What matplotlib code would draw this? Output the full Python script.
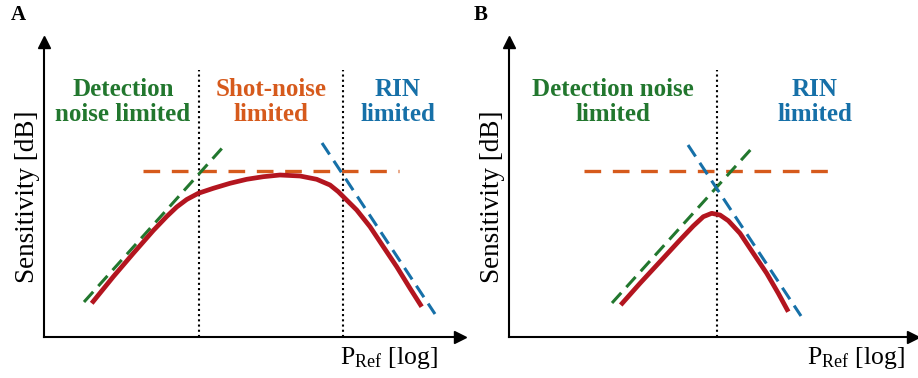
import numpy as np
import matplotlib.pyplot as plt

plt.rcParams['font.family'] = ['Liberation Serif', 'DejaVu Serif']

green = '#22772e'
orange = '#d65a1c'
blue = '#1670a8'
red = '#b3151f'

# panel A (arbitrary units, origin at the axes corner)
a_red_x = [47.7, 69.3, 89.3, 109.3, 122.7, 132.7, 142.7, 154.3, 169.3, 186, 202.7, 219.3,
           236, 256, 272.7, 286, 294.3, 299.3, 312.7, 326, 339.3, 352.7, 366, 377.7]
a_red_y = [33.7, 60.3, 83.7, 106.5, 120.5, 130, 137.5, 143.7, 148.7, 153.7, 157.7, 160.3,
           162, 161, 157.7, 152, 145.3, 140.3, 127, 110.3, 90.3, 70.3, 48.7, 30.3]
a_det_x = [40, 180]
a_det_y = [35, 191]
a_shot_x = [99, 355]
a_shot_y = [166, 166]
a_rin_x = [278, 391]
a_rin_y = [194, 23]
a_bounds = [155, 299]

# panel B
b_red_x = [111.7, 131, 151, 171, 184.3, 194.3, 202.7, 211, 219.3, 231, 244.3, 257.7, 269.3, 279.3]
b_red_y = [32, 53.7, 75.3, 97, 111, 120.3, 123.7, 122, 116.3, 103.7, 83.7, 63.7, 43.7, 25.3]
b_det_x = [103, 244]
b_det_y = [34, 190]
b_shot_x = [75, 330]
b_shot_y = [166, 166]
b_rin_x = [179, 292]
b_rin_y = [192, 21]
b_bounds = [208]

W, H = 918, 378
fig = plt.figure(figsize=(W / 100, H / 100), dpi=100)


def make_axes(left, width):
    ax = fig.add_axes([left / W, (H - 337) / H, width / W, 295 / H])
    ax.set_xlim(0, width)
    ax.set_ylim(0, 295)
    for s in ['top', 'right']:
        ax.spines[s].set_visible(False)
    for s in ['left', 'bottom']:
        ax.spines[s].set_linewidth(1.5)
    ax.set_xticks([])
    ax.set_yticks([])
    ax.plot(1, 0, '>k', ms=8, transform=ax.transAxes, clip_on=False)
    ax.plot(0, 1, '^k', ms=8, transform=ax.transAxes, clip_on=False)
    ax.text(-16, 140, 'Sensitivity [dB]', rotation=90, ha='center', va='center', fontsize=19.5)
    return ax


def draw(ax, bounds, det_x, det_y, shot_x, shot_y, rin_x, rin_y, red_x, red_y):
    for b in bounds:
        ax.plot([b, b], [0, 267], color='black', ls=(0, (1, 1.5)), lw=1.5)
    ax.plot(shot_x, shot_y, color=orange, lw=2.4, ls=(0, (5, 3.5)))
    ax.plot(det_x, det_y, color=green, lw=2.2, ls=(0, (4.5, 2.5)))
    ax.plot(rin_x, rin_y, color=blue, lw=2.2, ls=(0, (4.5, 2.5)))
    ax.plot(red_x, red_y, color=red, lw=3.4, solid_capstyle='butt', solid_joinstyle='round')


axA = make_axes(44, 416)
draw(axA, a_bounds, a_det_x, a_det_y, a_shot_x, a_shot_y, a_rin_x, a_rin_y, a_red_x, a_red_y)
tk = dict(ha='center', va='center', fontsize=18, fontweight='bold', linespacing=1.1)
axA.text(79, 235, 'Detection\nnoise limited', color=green, **tk)
axA.text(227, 235, 'Shot-noise\nlimited', color=orange, **tk)
axA.text(354, 235, 'RIN\nlimited', color=blue, **tk)
axA.text(394, -21, r'$\mathregular{P_{Ref}}$ [log]', ha='right', va='center', fontsize=18.5)

axB = make_axes(509, 404)
draw(axB, b_bounds, b_det_x, b_det_y, b_shot_x, b_shot_y, b_rin_x, b_rin_y, b_red_x, b_red_y)
axB.text(104, 235, 'Detection noise\nlimited', color=green, **tk)
axB.text(306, 235, 'RIN\nlimited', color=blue, **tk)
axB.text(396, -21, r'$\mathregular{P_{Ref}}$ [log]', ha='right', va='center', fontsize=18.5)

fig.text(18 / W, 1 - 15 / H, 'A', ha='center', va='center', fontsize=15, fontweight='bold')
fig.text(481 / W, 1 - 15 / H, 'B', ha='center', va='center', fontsize=15, fontweight='bold')

fig.savefig('out.png', dpi=100)
